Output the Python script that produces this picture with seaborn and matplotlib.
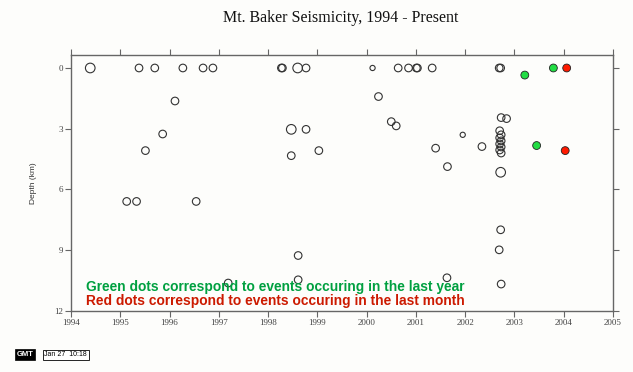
import pandas as pd
import matplotlib
matplotlib.use("Agg")
import matplotlib.pyplot as plt
import seaborn as sns

# older events (decimal year, depth in km, relative size class)
old_year = [1994.39, 1995.38, 1995.70, 1996.27, 1996.68, 1996.88, 1996.11, 1995.86,
            1995.51, 1995.13, 1995.33, 1996.54, 1997.19,
            1998.27, 1998.29, 1998.60, 1998.77, 1998.47, 1998.77, 1998.47, 1999.03,
            1998.61, 1998.61,
            2000.12, 2000.64, 2000.85, 2001.01, 2001.03, 2001.33, 2000.24, 2000.50,
            2000.60, 2001.40, 2001.64, 2001.63, 2001.95, 2002.34,
            2002.69, 2002.72, 2002.73, 2002.84,
            2002.70, 2002.73, 2002.70, 2002.73, 2002.70, 2002.73, 2002.70, 2002.73,
            2002.72, 2002.72, 2002.69, 2002.73]
old_depth = [0, 0, 0, 0, 0, 0, 1.63, 3.26,
             4.08, 6.59, 6.59, 6.59, 10.62,
             0, 0, 0, 0, 3.03, 3.03, 4.33, 4.08,
             9.26, 10.46,
             0, 0, 0, 0, 0, 0, 1.41, 2.65,
             2.86, 3.96, 4.87, 10.36, 3.30, 3.88,
             0, 0, 2.45, 2.50,
             3.10, 3.30, 3.45, 3.60, 3.75, 3.90, 4.05, 4.20,
             5.15, 7.99, 8.98, 10.67]
old_mag = [3, 2, 2, 2, 2, 2, 2, 2,
           2, 2, 2, 2, 2,
           2, 2, 3, 2, 3, 2, 2, 2,
           2, 2,
           1, 2, 2, 2, 2, 2, 2, 2,
           2, 2, 2, 2, 1, 2,
           2, 2, 2, 2,
           2, 2, 2, 2, 2, 2, 2, 2,
           3, 2, 2, 2]

# events in the last year (green) and last month (red)
year_year = [2003.21, 2003.79, 2003.45]
year_depth = [0.35, 0.0, 3.83]
month_year = [2004.06, 2004.03]
month_depth = [0.0, 4.08]

xticks = [1994, 1995, 1996, 1997, 1998, 1999, 2000, 2001, 2002, 2003, 2004, 2005]
yticks = [0, 3, 6, 9, 12]

old = pd.DataFrame({"year": old_year, "depth": old_depth, "mag": old_mag})
recent = pd.DataFrame({
    "year": year_year + month_year,
    "depth": year_depth + month_depth,
    "when": ["year"] * len(year_year) + ["month"] * len(month_year),
})

sns.set_style("ticks")
plt.rcParams["font.family"] = ["Liberation Serif", "DejaVu Serif"]

fig = plt.figure(figsize=(6.33, 3.72), dpi=100)
fig.patch.set_facecolor("#fdfdfb")
ax = fig.add_axes([0.1122, 0.164, 0.8562, 0.687])
ax.set_facecolor("#fdfdfb")

sns.scatterplot(data=old, x="year", y="depth", size="mag",
                sizes={1: 14, 2: 30, 3: 48}, facecolor="none",
                edgecolor="#333333", linewidth=0.8, legend=False, ax=ax)
sns.scatterplot(data=recent, x="year", y="depth", hue="when",
                palette={"year": "#22dd44", "month": "#ff1a00"},
                s=32, edgecolor="#222222", linewidth=0.6, legend=False, ax=ax)

ax.set_xlim(1994, 2005)
ax.set_ylim(12, -0.62)
ax.set_xticks(xticks)
ax.set_yticks(yticks)
ax.set_xticklabels([str(t) for t in xticks], fontsize=6.5, color="#444444")
ax.set_yticklabels([str(t) for t in yticks], fontsize=6.5, color="#444444")
ax.tick_params(direction="out", length=4, width=0.8, color="#666666",
               top=True, right=True, pad=2)
for sp in ax.spines.values():
    sp.set_visible(True)
    sp.set_color("#666666")
    sp.set_linewidth(1.0)
ax.set_xlabel("")
ax.set_ylabel("Depth (km)", family=["Liberation Sans", "DejaVu Sans"],
              fontsize=6, color="#333333", labelpad=12)

fig.text(0.539, 0.952, "Mt. Baker Seismicity, 1994 - Present",
         ha="center", va="center", fontsize=11.5, color="#111111")

ax.text(0.027, 0.094, "Green dots correspond to events occuring in the last year",
        transform=ax.transAxes, ha="left", va="center", fontsize=9.9,
        fontweight="bold", color="#00a040",
        family=["Liberation Sans", "DejaVu Sans"])
ax.text(0.027, 0.040, "Red dots correspond to events occuring in the last month",
        transform=ax.transAxes, ha="left", va="center", fontsize=9.9,
        fontweight="bold", color="#cc1a00",
        family=["Liberation Sans", "DejaVu Sans"])

# GMT stamp in the lower left corner
fig.text(0.026, 0.046, "GMT", ha="left", va="center", fontsize=5.5,
         fontweight="bold", color="white", family=["Liberation Sans", "DejaVu Sans"],
         bbox=dict(boxstyle="square,pad=0.25", fc="black", ec="black", lw=0.5))
fig.text(0.070, 0.046, "Jan 27  10:18", ha="left", va="center", fontsize=5,
         color="black", family=["Liberation Sans", "DejaVu Sans"],
         bbox=dict(boxstyle="square,pad=0.25", fc="white", ec="black", lw=0.6))

fig.savefig("out.png", dpi=100, facecolor=fig.get_facecolor())
